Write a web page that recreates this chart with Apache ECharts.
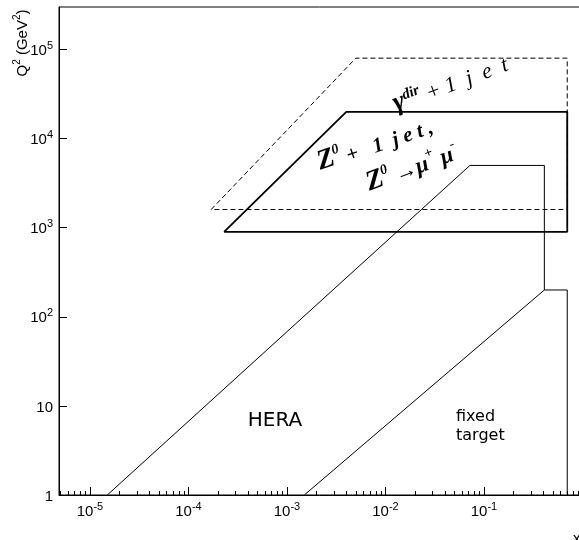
<!DOCTYPE html>
<html><head><meta charset="utf-8">
<script src="https://cdn.jsdelivr.net/npm/echarts@6/dist/echarts.min.js"></script>
<style>html,body{margin:0;padding:0;background:#fff}#c{width:579px;height:540px}</style>
</head><body><div id="c"></div>
<script>
// ---- data (x, Q^2) ----
const xRange = [4.85e-6, 1];
const yRange = [1, 3e5];
const xMajorExp = [-5, -4, -3, -2, -1];
const xTickLabels = ['10^-5', '10^-4', '10^-3', '10^-2', '10^-1'];
const yMajorExp = [0, 1, 2, 3, 4, 5];
const yTickLabels = ['1', '10', '10^2', '10^3', '10^4', '10^5'];

const gammaRegion = [[1.7e-4, 1600], [5e-3, 8e4], [0.7, 8e4], [0.7, 1600], [1.7e-4, 1600]];
const zRegion = [[2.3e-4, 900], [4e-3, 2e4], [0.7, 2e4], [0.7, 900], [2.3e-4, 900]];
const heraBoundary = [[1.5e-5, 1], [0.072, 5000], [0.41, 5000], [0.41, 200], [0.7, 200], [0.7, 1]];
const fixedTargetBoundary = [[1.5e-3, 1], [0.41, 200]];

// ---- chart ----
const L = Math.log10;
const toLog = pts => pts.map(p => [L(p[0]), L(p[1])]);
const xMin = L(xRange[0]), xMax = L(xRange[1]);
const yMin = L(yRange[0]), yMax = L(yRange[1]);
function minorTicks(lo, hi) {
  const out = [];
  for (let d = Math.floor(lo); d < Math.ceil(hi); d++)
    for (let k = 2; k <= 9; k++) { const v = d + L(k); if (v > lo && v < hi) out.push(v); }
  return out;
}
const FONT = 'Liberation Sans';
const rich = {
  b: {fontFamily: FONT, fontSize: 15, color: '#000', lineHeight: 18, verticalAlign: 'bottom'},
  s: {fontFamily: FONT, fontSize: 11, color: '#000', verticalAlign: 'top'}
};
function fmt(lbl) {
  const p = lbl.split('^');
  return '{b|' + p[0] + '}' + (p[1] ? '{s|' + p[1] + '}' : '');
}
const black = '#000';
function line(data, width, type) {
  return {type: 'line', data: toLog(data), symbol: 'none', silent: true, animation: false,
    lineStyle: {color: black, width: width, type: type || 'solid'}};
}

const serif = 'Liberation Serif';
const sp = '\u00a0';
const chart = echarts.init(document.getElementById('c'));
chart.setOption({
  animation: false,
  grid: {left: 59, width: 523.5, top: 7, bottom: 45, show: true, borderColor: black, borderWidth: 1,
         containLabel: false, outerBoundsMode: 'none'},
  xAxis: [
    {type: 'value', min: xMin, max: xMax, position: 'bottom',
     axisLine: {show: true, onZero: false, lineStyle: {color: black, width: 1}},
     splitLine: {show: false},
     axisTick: {show: true, inside: true, length: 8, customValues: xMajorExp, lineStyle: {color: black}},
     axisLabel: {show: true, margin: 6, customValues: xMajorExp, rich: rich,
       formatter: v => fmt(xTickLabels[xMajorExp.indexOf(Math.round(v))])}},
    {type: 'value', min: xMin, max: xMax, position: 'bottom', offset: 0,
     axisLine: {show: false}, splitLine: {show: false}, axisLabel: {show: false},
     axisTick: {show: true, inside: true, length: 4, customValues: minorTicks(xMin, xMax), lineStyle: {color: black}}}
  ],
  yAxis: [
    {type: 'value', min: yMin, max: yMax, position: 'left',
     axisLine: {show: true, onZero: false, lineStyle: {color: black, width: 1}},
     splitLine: {show: false},
     axisTick: {show: true, inside: true, length: 8, customValues: yMajorExp, lineStyle: {color: black}},
     axisLabel: {show: true, margin: 6, customValues: yMajorExp, rich: rich,
       formatter: v => fmt(yTickLabels[yMajorExp.indexOf(Math.round(v))])}},
    {type: 'value', min: yMin, max: yMax, position: 'left', offset: 0,
     axisLine: {show: false}, splitLine: {show: false}, axisLabel: {show: false},
     axisTick: {show: true, inside: true, length: 4.5, customValues: minorTicks(yMin, yMax), lineStyle: {color: black}}}
  ],
  series: [
    line(gammaRegion, 1, [5, 3]),
    line(zRegion, 1.8),
    line(heraBoundary, 1),
    line(fixedTargetBoundary, 1)
  ],
  graphic: [
    {type: 'text', x: 21, y: 43, rotation: Math.PI / 2, silent: true,
     style: {text: '{t|Q}{s|2}{t| (GeV}{s|2}{t|)}', align: 'center', verticalAlign: 'middle',
       rich: {t: {fontFamily: FONT, fontSize: 15, color: black, lineHeight: 18, verticalAlign: 'bottom'},
              s: {fontFamily: FONT, fontSize: 10, color: black, verticalAlign: 'top'}}}},
    {type: 'text', x: 573, y: 531, silent: true,
     style: {text: 'x', fontFamily: FONT, fontSize: 15, fill: black, align: 'left', verticalAlign: 'top'}},
    {type: 'text', x: 275, y: 421, silent: true,
     style: {text: 'HERA', fontFamily: 'DejaVu Sans', fontSize: 20, fill: black, align: 'center', verticalAlign: 'middle'}},
    {type: 'text', x: 456, y: 407, silent: true,
     style: {text: 'fixed\ntarget', fontFamily: 'DejaVu Sans', fontSize: 16, lineHeight: 19, fill: black, align: 'left', verticalAlign: 'top'}},
    {type: 'text', x: 394, y: 105, rotation: 0.36, silent: true,
     style: {text: '{g|γ}{s|dir}{t|' + sp + '+' + sp + '1' + sp + sp + 'j' + sp + sp + 'e' + sp + sp + 't}', align: 'left', verticalAlign: 'middle',
       rich: {g: {fontFamily: serif, fontStyle: 'italic', fontWeight: 'bold', fontSize: 27, color: black, lineHeight: 26, verticalAlign: 'bottom'},
              s: {fontFamily: serif, fontStyle: 'italic', fontWeight: 'bold', fontSize: 15, color: black, verticalAlign: 'top'},
              t: {fontFamily: serif, fontStyle: 'italic', fontSize: 22, color: black, lineHeight: 26, verticalAlign: 'bottom'}}}},
    {type: 'text', x: 318, y: 163, rotation: 0.33, silent: true,
     style: {text: '{z|Z}{s|0}{t|' + sp + '+' + sp + sp + sp + '1' + sp + sp + 'j' + sp + 'e' + sp + 't' + sp + ',}', align: 'left', verticalAlign: 'middle',
       rich: {z: {fontFamily: serif, fontStyle: 'italic', fontWeight: 'bold', fontSize: 28, color: black, lineHeight: 28, verticalAlign: 'bottom'},
              s: {fontFamily: serif, fontStyle: 'italic', fontWeight: 'bold', fontSize: 14, color: black, verticalAlign: 'top'},
              t: {fontFamily: serif, fontStyle: 'italic', fontWeight: 'bold', fontSize: 21, color: black, lineHeight: 28, verticalAlign: 'bottom'}}}},
    {type: 'text', x: 367, y: 184, rotation: 0.36, silent: true,
     style: {text: '{z|Z}{s|0}{t| →}{m|μ}{s|+}{m| μ}{s|-}', align: 'left', verticalAlign: 'middle',
       rich: {z: {fontFamily: serif, fontStyle: 'italic', fontWeight: 'bold', fontSize: 28, color: black, lineHeight: 28, verticalAlign: 'bottom'},
              s: {fontFamily: serif, fontStyle: 'italic', fontWeight: 'bold', fontSize: 14, color: black, verticalAlign: 'top'},
              t: {fontFamily: serif, fontWeight: 'bold', fontSize: 22, color: black, lineHeight: 28, verticalAlign: 'bottom'},
              m: {fontFamily: serif, fontStyle: 'italic', fontWeight: 'bold', fontSize: 23, color: black, lineHeight: 28, verticalAlign: 'bottom'}}}}
  ]
});
</script></body></html>
